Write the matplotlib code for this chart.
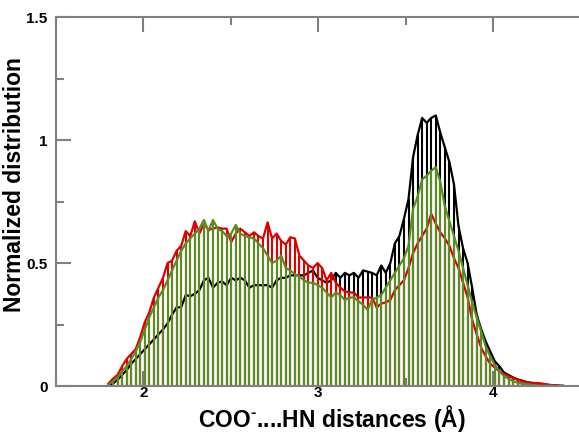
import numpy as np
import matplotlib
matplotlib.use('Agg')
import matplotlib.pyplot as plt
from matplotlib.ticker import MultipleLocator

plt.rcParams['font.family'] = ['Liberation Sans', 'DejaVu Sans']
plt.rcParams['font.weight'] = 'bold'
plt.rcParams['mathtext.fontset'] = 'custom'
plt.rcParams['mathtext.rm'] = 'Liberation Sans:bold'
plt.rcParams['mathtext.bf'] = 'Liberation Sans:bold'

# distance bins (Å), step 0.026 from 1.8 to 4.4
dist = np.round(np.linspace(1.8, 4.4, 101), 3)

black_vals = [
    0.005, 0.01, 0.025, 0.045, 0.065, 0.09, 0.11, 0.13, 0.15, 0.17,
    0.19, 0.21, 0.23, 0.255, 0.29, 0.32, 0.32, 0.37, 0.365, 0.375,
    0.39, 0.43, 0.44, 0.40, 0.42, 0.425, 0.41, 0.44, 0.43, 0.44,
    0.43, 0.40, 0.41, 0.41, 0.41, 0.41, 0.40, 0.43, 0.44, 0.44,
    0.45, 0.45, 0.45, 0.45, 0.46, 0.47, 0.44, 0.43, 0.42, 0.43,
    0.46, 0.44, 0.46, 0.45, 0.46, 0.44, 0.47, 0.465, 0.46, 0.45,
    0.49, 0.46, 0.50, 0.58, 0.61, 0.68, 0.76, 0.93, 1.02, 1.09,
    1.07, 1.09, 1.10, 1.03, 0.97, 0.91, 0.82, 0.65, 0.56, 0.50,
    0.40, 0.29, 0.23, 0.18, 0.14, 0.10, 0.08, 0.055, 0.045, 0.035,
    0.027, 0.022, 0.016, 0.013, 0.01, 0.008, 0.006, 0.004, 0.003, 0.002,
    0.001,
]

red_vals = [
    0.01, 0.03, 0.045, 0.08, 0.11, 0.13, 0.15, 0.20, 0.26, 0.30,
    0.36, 0.40, 0.44, 0.50, 0.51, 0.55, 0.57, 0.63, 0.61, 0.67,
    0.62, 0.66, 0.635, 0.64, 0.645, 0.64, 0.64, 0.585, 0.62, 0.64,
    0.625, 0.61, 0.625, 0.61, 0.60, 0.665, 0.60, 0.62, 0.59, 0.575,
    0.605, 0.60, 0.53, 0.51, 0.49, 0.48, 0.50, 0.48, 0.43, 0.46,
    0.42, 0.40, 0.385, 0.38, 0.38, 0.36, 0.36, 0.36, 0.36, 0.32,
    0.335, 0.34, 0.35, 0.39, 0.41, 0.43, 0.48, 0.54, 0.58, 0.61,
    0.64, 0.70, 0.66, 0.625, 0.60, 0.57, 0.52, 0.48, 0.42, 0.36,
    0.27, 0.21, 0.155, 0.12, 0.09, 0.075, 0.06, 0.05, 0.04, 0.033,
    0.025, 0.02, 0.016, 0.013, 0.012, 0.011, 0.008, 0.005, 0.003, 0.001,
    0.0,
]

green_vals = [
    0.005, 0.02, 0.035, 0.06, 0.08, 0.11, 0.14, 0.18, 0.23, 0.28,
    0.32, 0.36, 0.39, 0.43, 0.47, 0.51, 0.55, 0.58, 0.60, 0.62,
    0.64, 0.675, 0.63, 0.675, 0.64, 0.63, 0.61, 0.62, 0.655, 0.62,
    0.61, 0.605, 0.60, 0.58, 0.56, 0.53, 0.50, 0.51, 0.53, 0.48,
    0.47, 0.455, 0.445, 0.43, 0.42, 0.42, 0.41, 0.40, 0.38, 0.36,
    0.38, 0.37, 0.35, 0.36, 0.36, 0.345, 0.33, 0.31, 0.35, 0.36,
    0.37, 0.40, 0.43, 0.46, 0.49, 0.52, 0.57, 0.72, 0.77, 0.84,
    0.855, 0.875, 0.89, 0.83, 0.73, 0.67, 0.61, 0.55, 0.48, 0.41,
    0.34, 0.28, 0.22, 0.16, 0.12, 0.085, 0.06, 0.04, 0.03, 0.02,
    0.013, 0.01, 0.007, 0.005, 0.003, 0.002, 0.001, 0.001, 0.0, 0.0,
    0.0,
]

fig = plt.figure(figsize=(5.79, 4.33), dpi=100)
ax = fig.add_axes([0.0967, 0.1085, 0.906, 0.852])

series = [(black_vals, 'black'), (red_vals, '#e00000'), (green_vals, '#5b8c23')]
for vals, col in series:
    ax.vlines(dist, 0, vals, color=col, lw=1.5)
    ax.plot(dist, vals, color=col, lw=1.6)

ax.set_xlim(1.5, 4.5)
ax.set_ylim(0, 1.5)
ax.xaxis.set_major_locator(MultipleLocator(1))
ax.xaxis.set_minor_locator(MultipleLocator(0.5))
ax.set_yticks([0, 0.5, 1, 1.5])
ax.set_yticklabels(['0', '0.5', '1', '1.5'])
ax.yaxis.set_minor_locator(MultipleLocator(0.25))

for s in ax.spines.values():
    s.set_color('#808080')
    s.set_linewidth(1.5)
ax.tick_params(which='both', direction='in', color='#808080', width=1.5,
               top=True, right=False, labelsize=11)
ax.tick_params(which='major', length=11)
ax.tick_params(which='minor', length=6)
ax.tick_params(axis='y', pad=6)
ax.tick_params(axis='x', pad=0)

ax.set_ylabel('Normalized distribution', fontsize=16.5, fontweight='bold')
ax.yaxis.set_label_coords(-0.058, 0.545)
ax.set_xlabel('COO$^{\u2010}$....HN distances (Å)', fontsize=16.5, fontweight='bold')
ax.xaxis.set_label_coords(0.526, -0.046)
ax.xaxis.label.set_va('top')

fig.savefig('out.png', dpi=100)
